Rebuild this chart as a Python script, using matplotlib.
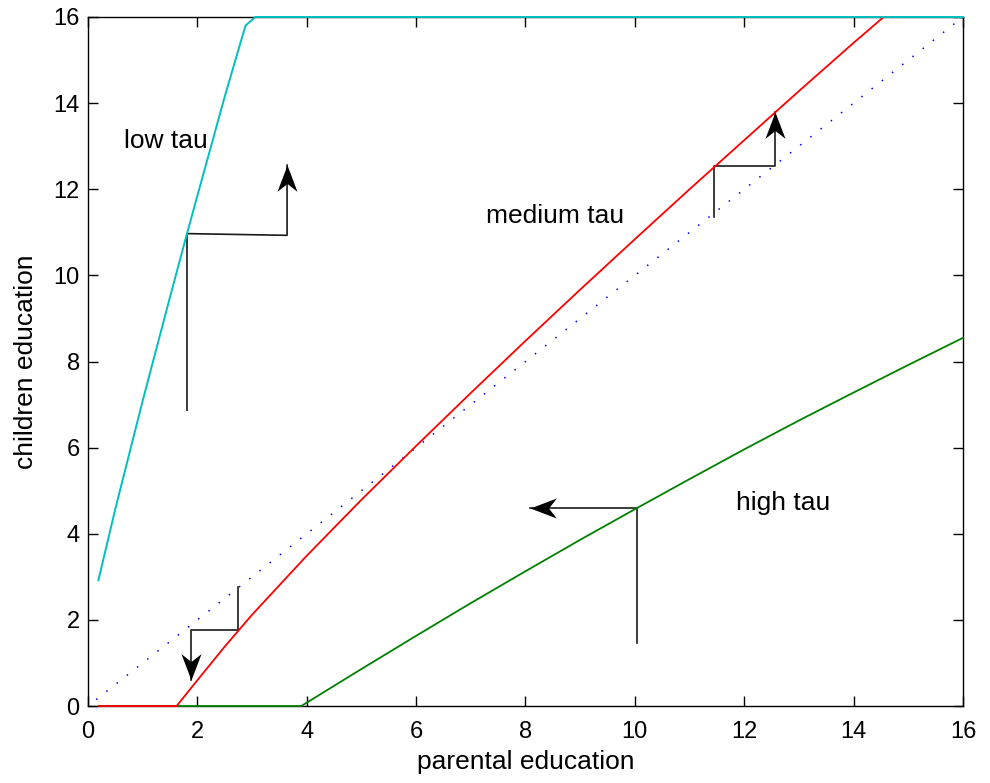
import numpy as np
import matplotlib
matplotlib.use("Agg")
import matplotlib.pyplot as plt
from matplotlib.path import Path
from matplotlib.markers import MarkerStyle
from matplotlib.transforms import Affine2D

plt.rcParams['font.family'] = ['Liberation Sans', 'DejaVu Sans']

# policy curves: (parental education, children education)
low_x = [0.19, 0.5, 1.0, 1.5, 1.81, 2.0, 2.5, 2.88, 3.06, 16.0]
low_y = [2.92, 4.58, 7.09, 9.50, 10.97, 11.85, 14.15, 15.80, 16.0, 16.0]
med_x = [0.2, 1.62, 2.0, 2.5, 3.0, 4.0, 5.0, 6.0, 7.0, 8.0, 9.0, 10.0,
         11.0, 12.0, 13.0, 14.0, 14.55]
med_y = [0.0, 0.0, 0.60, 1.38, 2.12, 3.49, 4.79, 6.04, 7.27, 8.48, 9.67, 10.84,
         12.00, 13.14, 14.28, 15.40, 16.0]
high_x = [0.2, 3.9, 5.0, 6.0, 7.0, 8.0, 9.0, 10.0, 11.0, 12.0, 13.0,
          14.0, 15.0, 16.0]
high_y = [0.0, 0.0, 0.86, 1.63, 2.39, 3.13, 3.86, 4.57, 5.27, 5.96, 6.63,
          7.28, 7.92, 8.55]
diag_x = [0.15, 16.0]
diag_y = [0.15, 16.0]

# step arrows: polyline points, last point = arrow tip
arrow_paths = [
    ([1.81, 1.81, 3.64, 3.64], [6.87, 10.97, 10.93, 12.56]),
    ([11.44, 11.44, 12.56, 12.56], [11.35, 12.54, 12.54, 13.8]),
    ([2.74, 2.74, 1.88, 1.88], [2.76, 1.76, 1.76, 0.6]),
    ([10.04, 10.04, 8.08], [1.47, 4.6, 4.6]),
]

labels = ["low tau", "medium tau", "high tau"]
label_x = [1.43, 8.54, 12.71]
label_y = [12.96, 11.22, 4.55]

fig = plt.figure(figsize=(9.9, 7.83), dpi=100)
ax = fig.add_axes([0.0889, 0.0983, 0.8838, 0.88])

ax.plot(high_x, high_y, color='#008000', lw=1.3, clip_on=False, zorder=3)
ax.plot(med_x, med_y, color='#FF0000', lw=1.3, clip_on=False, zorder=3.1)
ax.plot(low_x, low_y, color='#00BFBF', lw=1.4, clip_on=False, zorder=3.2)
ax.plot(diag_x, diag_y, color='#0000FF', lw=1.1, linestyle=(0, (1, 7.5)))

# arrow head marker (tip at origin, pointing up)
head = Path([(0, 0), (-0.38, -1.0), (0, -0.7), (0.38, -1.0), (0, 0)],
            [Path.MOVETO, Path.LINETO, Path.LINETO, Path.LINETO, Path.CLOSEPOLY])

for xs, ys in arrow_paths:
    ax.plot(xs, ys, color='#1a1a1a', lw=1.2)
    dx = xs[-1] - xs[-2]
    dy = ys[-1] - ys[-2]
    if abs(dx) > abs(dy):
        ang = 90 if dx < 0 else -90
    else:
        ang = 0 if dy > 0 else 180
    m = MarkerStyle(head, transform=Affine2D().rotate_deg(ang))
    ax.plot([xs[-1]], [ys[-1]], linestyle='none', marker=m, markersize=38,
            color='black', markeredgewidth=0)

for t, x, y in zip(labels, label_x, label_y):
    ax.text(x, y, t, ha='center', va='baseline', fontsize=19)

ax.set_xlim(0, 16)
ax.set_ylim(0, 16)
ax.set_xticks(np.arange(0, 17, 2))
ax.set_yticks(np.arange(0, 17, 2))
ax.tick_params(direction='in', top=True, right=True, length=7, width=1,
               labelsize=17)
ax.tick_params(axis='x', pad=11)
ax.tick_params(axis='y', pad=6)
for s in ax.spines.values():
    s.set_linewidth(1.0)
ax.set_xlabel('parental education', fontsize=19, labelpad=5)
ax.set_ylabel('children education', fontsize=19, labelpad=11)

fig.savefig('out.png', dpi=100)
